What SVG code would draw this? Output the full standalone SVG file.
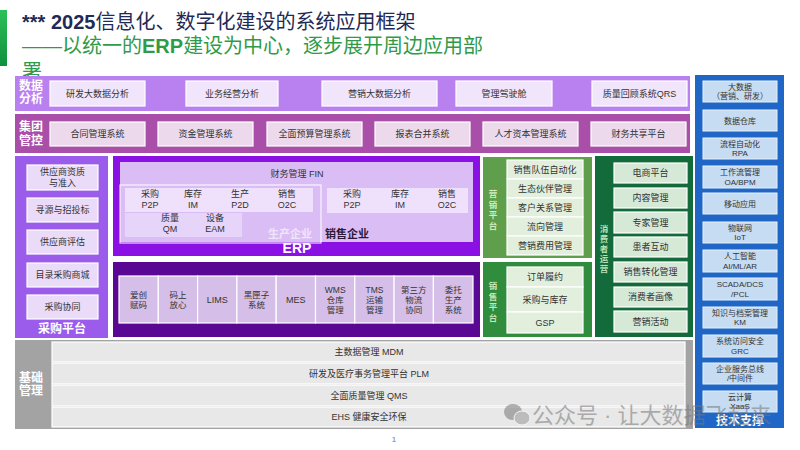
<svg xmlns="http://www.w3.org/2000/svg" width="800" height="450" viewBox="0 0 800 450">
<defs>
<linearGradient id="gacc" x1="0" y1="0" x2="0" y2="1"><stop offset="0" stop-color="#2cc05a"/><stop offset="1" stop-color="#11903e"/></linearGradient>
<style>
text{font-family:"Liberation Sans","Noto Sans CJK SC",sans-serif;}
.t{font-size:9px;fill:#333;text-anchor:middle;}
.s{font-size:8px;fill:#333;text-anchor:middle;}
.c{font-size:8.5px;fill:#333;text-anchor:middle;}
.lbl{font-family:"Noto Sans CJK SC","Liberation Sans",sans-serif;font-size:12px;font-weight:bold;fill:#fff;text-anchor:middle;}
.vl{font-family:"Noto Sans CJK SC","Liberation Sans",sans-serif;font-size:8.5px;font-weight:bold;text-anchor:middle;}
.b1{fill:#f0e5fb;stroke:#fff;stroke-width:1.2;}
.b2{fill:#ecdaec;stroke:#fff;stroke-width:1.2;}
.b3{fill:#eadcf9;stroke:#fff;stroke-width:1.2;}
.cell{fill:#d5bfe9;stroke:#fff;stroke-width:1.2;}
.gb{fill:#e1efdc;stroke:#fff;stroke-width:1.2;}
.cb{fill:#d6e9d7;stroke:#fff;stroke-width:1.2;}
.bb{fill:#c6dcf2;stroke:#e8f1fb;stroke-width:1;}
.gr{fill:#e8e8e8;stroke:#fff;stroke-width:1.2;}
</style>
</defs>
<rect width="800" height="450" fill="#fff"/>
<g id="title">
<rect x="0" y="10" width="7" height="56" fill="url(#gacc)"/>
<text x="22" y="29" font-size="20" fill="#1f2a56"><tspan font-weight="bold">*** 2025</tspan>信息化、数字化建设的系统应用框架</text>
<text x="22" y="53" font-size="20" fill="#2f9b48">——以统一的<tspan font-weight="bold">ERP</tspan>建设为中心，逐步展开周边应用部</text>
<text x="22" y="79" font-size="20" fill="#2f9b48">署</text>
</g>
<g id="data-analysis">
<rect x="15" y="76" width="675" height="35" fill="#b980ef"/>
<text class="lbl" x="31" y="90">数据</text><text class="lbl" x="31" y="103">分析</text>
<rect class="b1" x="50" y="81" width="95" height="25"/><text class="t" x="97.5" y="96.5">研发大数据分析</text>
<rect class="b1" x="186" y="81" width="92" height="25"/><text class="t" x="232" y="96.5">业务经营分析</text>
<rect class="b1" x="322" y="81" width="115" height="25"/><text class="t" x="379.5" y="96.5">营销大数据分析</text>
<rect class="b1" x="456" y="81" width="96" height="25"/><text class="t" x="504" y="96.5">管理驾驶舱</text>
<rect class="b1" x="592" y="81" width="95" height="25"/><text class="t" x="639.5" y="96.5">质量回顾系统QRS</text>
</g>
<g id="group-control">
<rect x="15" y="114" width="675" height="39" fill="#a94ea9"/>
<text class="lbl" x="31" y="131">集团</text><text class="lbl" x="31" y="145">管控</text>
<rect class="b2" x="50" y="122" width="95" height="24"/><text class="t" x="97.5" y="137">合同管理系统</text>
<rect class="b2" x="158" y="122" width="95" height="24"/><text class="t" x="205.5" y="137">资金管理系统</text>
<rect class="b2" x="267" y="122" width="95" height="24"/><text class="t" x="314.5" y="137">全面预算管理系统</text>
<rect class="b2" x="375" y="122" width="95" height="24"/><text class="t" x="422.5" y="137">报表合并系统</text>
<rect class="b2" x="483" y="122" width="95" height="24"/><text class="t" x="530.5" y="137">人才资本管理系统</text>
<rect class="b2" x="591" y="122" width="95" height="24"/><text class="t" x="638.5" y="137">财务共享平台</text>
</g>
<g id="purchase-platform">
<rect x="15" y="156" width="93" height="182" fill="#9b5beb"/>
<rect class="b3" x="27" y="165" width="71" height="25"/><text class="t" x="62.5" y="175">供应商资质</text><text class="t" x="62.5" y="186">与准入</text>
<rect class="b3" x="27" y="198" width="71" height="24"/><text class="t" x="62.5" y="213">寻源与招投标</text>
<rect class="b3" x="27" y="230" width="71" height="24"/><text class="t" x="62.5" y="245">供应商评估</text>
<rect class="b3" x="27" y="263" width="71" height="24"/><text class="t" x="62.5" y="278">目录采购商城</text>
<rect class="b3" x="27" y="295" width="71" height="24"/><text class="t" x="62.5" y="310">采购协同</text>
<text class="lbl" x="62" y="333" font-size="11">采购平台</text>
</g>
<g id="erp">
<rect x="113" y="156" width="367" height="100" fill="#8a10e4"/>
<rect x="120" y="162" width="353" height="80" fill="#dbbdf6"/>
<text class="t" x="297" y="177">财务管理 FIN</text>
<rect x="125" y="188" width="188" height="24" fill="#fff" opacity="0.55"/>
<rect x="125" y="213" width="117" height="24" fill="#fff" opacity="0.35"/>
<rect x="120" y="185" width="201" height="58" fill="none" stroke="#fff" stroke-width="1.2" opacity="0.85"/>
<rect x="327" y="188" width="141" height="25" fill="#fff" opacity="0.55"/>
<text class="t" x="150" y="197">采购</text><text class="t" x="150" y="208">P2P</text>
<text class="t" x="193" y="197">库存</text><text class="t" x="193" y="208">IM</text>
<text class="t" x="240" y="197">生产</text><text class="t" x="240" y="208">P2D</text>
<text class="t" x="287" y="197">销售</text><text class="t" x="287" y="208">O2C</text>
<text class="t" x="170" y="221">质量</text><text class="t" x="170" y="232">QM</text>
<text class="t" x="215" y="221">设备</text><text class="t" x="215" y="232">EAM</text>
<text class="t" x="352" y="197">采购</text><text class="t" x="352" y="208">P2P</text>
<text class="t" x="400" y="197">库存</text><text class="t" x="400" y="208">IM</text>
<text class="t" x="447" y="197">销售</text><text class="t" x="447" y="208">O2C</text>
<text x="290" y="238" font-family="Noto Sans CJK SC" font-size="11" font-weight="bold" fill="#fff" opacity="0.6" text-anchor="middle">生产企业</text>
<text x="347" y="238" font-family="Noto Sans CJK SC" font-size="11" font-weight="bold" fill="#2a1838" text-anchor="middle">销售企业</text>
<text x="297" y="253" font-size="14" font-weight="bold" fill="#fff" text-anchor="middle">ERP</text>
</g>
<g id="erp-peripheral">
<rect x="113" y="262" width="367" height="75" fill="#5a0893"/>
<rect class="cell" x="119" y="276" width="39.3" height="47"/>
<rect class="cell" x="158.3" y="276" width="39.3" height="47"/>
<rect class="cell" x="197.6" y="276" width="39.3" height="47"/>
<rect class="cell" x="236.9" y="276" width="39.3" height="47"/>
<rect class="cell" x="276.2" y="276" width="39.3" height="47"/>
<rect class="cell" x="315.5" y="276" width="39.3" height="47"/>
<rect class="cell" x="354.8" y="276" width="39.3" height="47"/>
<rect class="cell" x="394.1" y="276" width="39.3" height="47"/>
<rect class="cell" x="433.4" y="276" width="39.6" height="47"/>
<text class="c" x="138.6" y="298">爱创</text><text class="c" x="138.6" y="308">赋码</text>
<text class="c" x="178" y="298">码上</text><text class="c" x="178" y="308">放心</text>
<text class="t" x="217.2" y="303">LIMS</text>
<text class="c" x="256.5" y="298">黑匣子</text><text class="c" x="256.5" y="308">系统</text>
<text class="t" x="295.8" y="303">MES</text>
<text class="c" x="335.2" y="293">WMS</text><text class="c" x="335.2" y="303">仓库</text><text class="c" x="335.2" y="313">管理</text>
<text class="c" x="374.5" y="293">TMS</text><text class="c" x="374.5" y="303">运输</text><text class="c" x="374.5" y="313">管理</text>
<text class="c" x="413.8" y="293">第三方</text><text class="c" x="413.8" y="303">物流</text><text class="c" x="413.8" y="313">协同</text>
<text class="c" x="453.2" y="293">委托</text><text class="c" x="453.2" y="303">生产</text><text class="c" x="453.2" y="313">系统</text>
</g>
<g id="marketing-platform">
<rect x="483" y="157" width="109" height="101" fill="#5f9f4b"/>
<rect class="gb" x="507" y="160" width="76" height="19"/><text class="t" x="545" y="172.5">销售队伍自动化</text>
<rect class="gb" x="507" y="179" width="76" height="19"/><text class="t" x="545" y="191.5">生态伙伴管理</text>
<rect class="gb" x="507" y="198" width="76" height="19"/><text class="t" x="545" y="210.5">客户关系管理</text>
<rect class="gb" x="507" y="217" width="76" height="19"/><text class="t" x="545" y="229.5">流向管理</text>
<rect class="gb" x="507" y="236" width="76" height="19"/><text class="t" x="545" y="248.5">营销费用管理</text>
<text class="vl" fill="#d4ecbc"><tspan x="493" y="197">营</tspan><tspan x="493" y="207.5">销</tspan><tspan x="493" y="218">平</tspan><tspan x="493" y="228.5">台</tspan></text>
</g>
<g id="sales-platform">
<rect x="483" y="262" width="109" height="75" fill="#2f8d3d"/>
<rect class="gb" x="507" y="267" width="76" height="20"/><text class="t" x="545" y="280">订单履约</text>
<rect class="gb" x="507" y="287" width="76" height="25"/><text class="t" x="545" y="302.5">采购与库存</text>
<rect class="gb" x="507" y="312" width="76" height="21"/><text class="t" x="545" y="325.5">GSP</text>
<text class="vl" fill="#c8e6b4"><tspan x="493" y="289">销</tspan><tspan x="493" y="299.5">售</tspan><tspan x="493" y="310">平</tspan><tspan x="493" y="320.5">台</tspan></text>
</g>
<g id="consumer-operation">
<rect x="595" y="156" width="98" height="181" fill="#136a3b"/>
<rect class="cb" x="614" y="163" width="73" height="20"/><text class="t" x="650.5" y="176">电商平台</text>
<rect class="cb" x="614" y="188" width="73" height="20"/><text class="t" x="650.5" y="201">内容管理</text>
<rect class="cb" x="614" y="212" width="73" height="21"/><text class="t" x="650.5" y="225.5">专家管理</text>
<rect class="cb" x="614" y="237" width="73" height="20"/><text class="t" x="650.5" y="250">患者互动</text>
<rect class="cb" x="614" y="262" width="73" height="20"/><text class="t" x="650.5" y="275">销售转化管理</text>
<rect class="cb" x="614" y="287" width="73" height="20"/><text class="t" x="650.5" y="300">消费者画像</text>
<rect class="cb" x="614" y="311" width="73" height="21"/><text class="t" x="650.5" y="324.5">营销活动</text>
<text class="vl" fill="#b9e0b4"><tspan x="604" y="232">消</tspan><tspan x="604" y="242">费</tspan><tspan x="604" y="252">者</tspan><tspan x="604" y="262">运</tspan><tspan x="604" y="272">营</tspan></text>
</g>
<g id="tech-support">
<rect x="695" y="75" width="89" height="353" fill="#1f66c6"/>
<rect class="bb" x="703" y="81" width="74" height="21"/><text class="s" x="740" y="89.5">大数据</text><text class="s" x="740" y="99">（营销、研发）</text>
<rect class="bb" x="703" y="110" width="74" height="21"/><text class="s" x="740" y="123.5">数据仓库</text>
<rect class="bb" x="703" y="138" width="74" height="21"/><text class="s" x="740" y="146.5">流程自动化</text><text class="s" x="740" y="156">RPA</text>
<rect class="bb" x="703" y="166" width="74" height="22"/><text class="s" x="740" y="175">工作流管理</text><text class="s" x="740" y="184.5">OA/BPM</text>
<rect class="bb" x="703" y="193" width="74" height="21"/><text class="s" x="740" y="206.5">移动应用</text>
<rect class="bb" x="703" y="222" width="74" height="21"/><text class="s" x="740" y="230.5">物联网</text><text class="s" x="740" y="240">IoT</text>
<rect class="bb" x="703" y="250" width="74" height="22"/><text class="s" x="740" y="259">人工智能</text><text class="s" x="740" y="268.5">AI/ML/AR</text>
<rect class="bb" x="703" y="278" width="74" height="22"/><text class="s" x="740" y="287">SCADA/DCS</text><text class="s" x="740" y="296.5">/PCL</text>
<rect class="bb" x="703" y="307" width="74" height="21"/><text class="s" x="740" y="315.5">知识与档案管理</text><text class="s" x="740" y="325">KM</text>
<rect class="bb" x="703" y="335" width="74" height="22"/><text class="s" x="740" y="344">系统访问安全</text><text class="s" x="740" y="353.5">GRC</text>
<rect class="bb" x="703" y="363" width="74" height="21"/><text class="s" x="740" y="371.5">企业服务总线</text><text class="s" x="740" y="381">/中间件</text>
<rect class="bb" x="703" y="391" width="74" height="21"/><text class="s" x="740" y="399.5">云计算</text><text class="s" x="740" y="409">XaaS</text>
<text class="lbl" x="740" y="425" font-size="11">技术支撑</text>
</g>
<g id="basic-management">
<rect x="15" y="340" width="678" height="89" fill="#a3a3a3"/>
<text class="lbl" x="31" y="382">基础</text><text class="lbl" x="31" y="395">管理</text>
<rect class="gr" x="52" y="342" width="633" height="20"/><text class="t" x="369" y="355">主数据管理 MDM</text>
<rect class="gr" x="52" y="363" width="633" height="21"/><text class="t" x="369" y="376.5">研发及医疗事务管理平台 PLM</text>
<rect class="gr" x="52" y="385" width="633" height="21"/><text class="t" x="369" y="398.5">全面质量管理 QMS</text>
<rect class="gr" x="52" y="407" width="633" height="20"/><text class="t" x="369" y="420">EHS 健康安全环保</text>
</g>
<g id="connectors"></g>
<g id="footer">
<text x="394" y="442" font-size="8" fill="#777" text-anchor="middle">1</text>
</g>
<g id="watermark" opacity="0.55">
<ellipse cx="513" cy="412" rx="9" ry="8" fill="#777"/>
<ellipse cx="522" cy="418" rx="8" ry="7" fill="#999" stroke="#fff" stroke-width="1"/>
<text x="532" y="423" font-family="Noto Sans CJK SC,sans-serif" font-size="22" fill="#777">公众号 · 让大数据飞起来</text>
</g>
</svg>
